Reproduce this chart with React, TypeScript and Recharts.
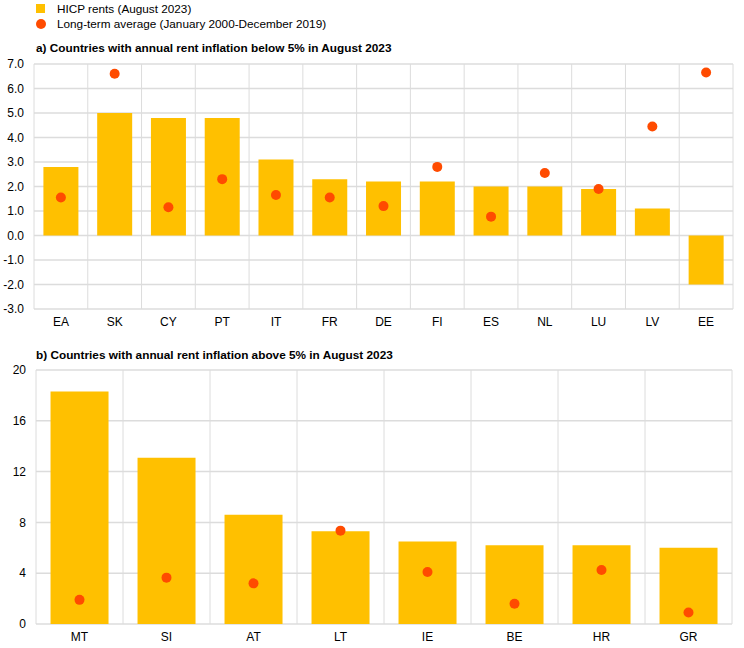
import React from "react";
import { ComposedChart, Bar, Line, XAxis, YAxis, CartesianGrid } from "recharts";

const catsA = ["EA", "SK", "CY", "PT", "IT", "FR", "DE", "FI", "ES", "NL", "LU", "LV", "EE"];
const rentsA = [2.8, 5.0, 4.8, 4.8, 3.1, 2.3, 2.2, 2.2, 2.0, 2.0, 1.9, 1.1, -2.0];
const avgA = [1.55, 6.6, 1.15, 2.3, 1.65, 1.55, 1.2, 2.8, 0.77, 2.55, 1.9, 4.45, 6.65];
const ticksA = [-3, -2, -1, 0, 1, 2, 3, 4, 5, 6, 7];

const catsB = ["MT", "SI", "AT", "LT", "IE", "BE", "HR", "GR"];
const rentsB = [18.3, 13.1, 8.6, 7.3, 6.5, 6.2, 6.2, 6.0];
const avgB = [1.9, 3.65, 3.2, 7.35, 4.1, 1.6, 4.25, 0.9];
const ticksB = [0, 4, 8, 12, 16, 20];

const legendLabels = ["HICP rents (August 2023)", "Long-term average (January 2000-December 2019)"];
const titleA = "a) Countries with annual rent inflation below 5% in August 2023";
const titleB = "b) Countries with annual rent inflation above 5% in August 2023";

const YELLOW = "#FFC000";
const ORANGE = "#FF4B00";
const GRID = "#dcdcdc";
const FONT = "Arial, 'Liberation Sans', sans-serif";

const dataA = catsA.map((c, i) => ({ cat: c, rent: rentsA[i], avg: avgA[i] }));
const dataB = catsB.map((c, i) => ({ cat: c, rent: rentsB[i], avg: avgB[i] }));

const boundaryGen = (n: number) => (props: any) => {
  const off = props.offset;
  const out: number[] = [];
  for (let i = 0; i <= n; i++) out.push(off.left + (i * off.width) / n);
  return out;
};

const tickStyle = { fill: "#000", fontSize: 12, fontFamily: FONT };

function Panel(props: {
  data: any[];
  ticks: number[];
  domain: [number, number];
  fmt: (v: number) => string;
  width: number;
  height: number;
  margin: any;
  yWidth: number;
  xHeight: number;
  gap: string;
  n: number;
}) {
  const { data, ticks, domain, fmt, width, height, margin, yWidth, xHeight, gap, n } = props;
  return (
    <ComposedChart width={width} height={height} data={data} margin={margin} barCategoryGap={gap}>
      <CartesianGrid vertical={false} stroke={GRID} strokeWidth={1.5} />
      <CartesianGrid horizontal={false} stroke={GRID} strokeWidth={1} verticalCoordinatesGenerator={boundaryGen(n)} />
      <XAxis
        dataKey="cat"
        axisLine={false}
        tickLine={false}
        height={xHeight}
        tick={tickStyle}
        interval={0}
      />
      <YAxis
        domain={domain}
        ticks={ticks}
        type="number"
        allowDataOverflow
        axisLine={false}
        tickLine={false}
        width={yWidth}
        tick={tickStyle}
        tickFormatter={fmt}
        tickMargin={4}
        interval={0}
      />
      <Bar dataKey="rent" fill={YELLOW} isAnimationActive={false} />
      <Line
        dataKey="avg"
        stroke="none"
        isAnimationActive={false}
        dot={{ r: 5, fill: ORANGE, stroke: "none" }}
        activeDot={false}
      />
    </ComposedChart>
  );
}

export default function App() {
  return (
    <div style={{ position: "absolute", left: 0, top: 0, width: 744, height: 648, background: "#fff", fontFamily: FONT }}>
      <div style={{ position: "absolute", left: 36, top: 4, width: 9, height: 9, background: YELLOW }} />
      <div style={{ position: "absolute", left: 57, top: 1, fontSize: 11.75, lineHeight: "15px", color: "#000", whiteSpace: "nowrap" }}>{legendLabels[0]}</div>
      <div style={{ position: "absolute", left: 36, top: 19, width: 10, height: 10, borderRadius: 5, background: ORANGE }} />
      <div style={{ position: "absolute", left: 57, top: 16, fontSize: 11.75, lineHeight: "15px", color: "#000", whiteSpace: "nowrap" }}>{legendLabels[1]}</div>
      <div style={{ position: "absolute", left: 36, top: 41, fontSize: 11.8, fontWeight: "bold", lineHeight: "15px", color: "#000", whiteSpace: "nowrap" }}>{titleA}</div>
      <div style={{ position: "absolute", left: 36, top: 348, fontSize: 11.8, fontWeight: "bold", lineHeight: "15px", color: "#000", whiteSpace: "nowrap" }}>{titleB}</div>
      <div style={{ position: "absolute", left: 0, top: 0 }}>
        <Panel
          data={dataA}
          ticks={ticksA}
          domain={[-3, 7]}
          fmt={(v) => v.toFixed(1)}
          width={744}
          height={340}
          margin={{ top: 64, right: 11, bottom: 0, left: 0 }}
          yWidth={34}
          xHeight={31}
          gap="17.5%"
          n={catsA.length}
        />
      </div>
      <div style={{ position: "absolute", left: 0, top: 340 }}>
        <Panel
          data={dataB}
          ticks={ticksB}
          domain={[0, 20]}
          fmt={(v) => String(v)}
          width={744}
          height={308}
          margin={{ top: 30, right: 12, bottom: 0, left: 0 }}
          yWidth={36}
          xHeight={24}
          gap="16.7%"
          n={catsB.length}
        />
      </div>
    </div>
  );
}
